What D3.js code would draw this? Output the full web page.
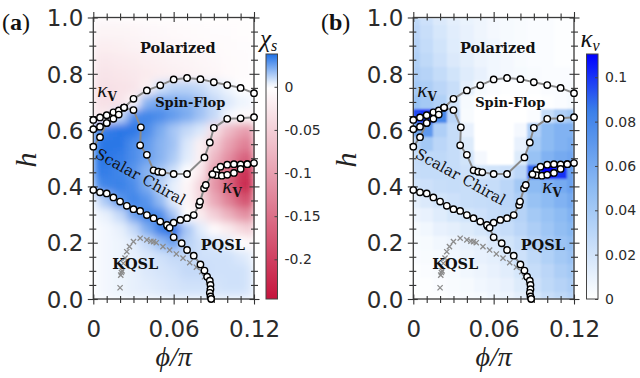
<!DOCTYPE html>
<html>
<head>
<meta charset="utf-8">
<script src="https://cdn.jsdelivr.net/npm/d3@7/dist/d3.min.js"></script>
<style>
  body { margin: 0; background: #fff; }
  svg { display: block; }
</style>
</head>
<body>
<div id="chart"></div>
<script>
// grid of the maps: phi columns, h rows (top row first)
const phiCols = [0, 0.01, 0.02, 0.03, 0.04, 0.05, 0.06, 0.07, 0.08, 0.09, 0.10, 0.11, 0.12];
const hRows = [1.0, 0.95, 0.9, 0.85, 0.8, 0.75, 0.7, 0.65, 0.6, 0.55, 0.5, 0.45, 0.4, 0.35, 0.3, 0.25, 0.2, 0.15, 0.1, 0.05, 0.0];

// (a) chi_s
const chiS = [
  [-0.008,-0.008,-0.007,-0.006,-0.005,-0.004,-0.004,-0.003,-0.003,-0.002,-0.002,-0.002,-0.002],
  [-0.012,-0.012,-0.011,-0.010,-0.008,-0.007,-0.006,-0.005,-0.004,-0.003,-0.003,-0.002,-0.002],
  [-0.018,-0.018,-0.016,-0.014,-0.012,-0.010,-0.009,-0.007,-0.006,-0.005,-0.004,-0.003,-0.003],
  [-0.024,-0.024,-0.022,-0.020,-0.017,-0.015,-0.013,-0.011,-0.009,-0.007,-0.005,-0.004,-0.003],
  [-0.028,-0.028,-0.026,-0.024,-0.021,-0.018,-0.016,-0.014,-0.012,-0.009,-0.006,-0.004,-0.003],
  [-0.032,-0.032,-0.030,-0.028,-0.015, 0.008, 0.012, 0.012, 0.010, 0.006, 0.003, 0.000,-0.002],
  [-0.030,-0.032,-0.028,-0.008, 0.020, 0.024, 0.022, 0.020, 0.016, 0.010, 0.006, 0.003, 0.002],
  [-0.028,-0.020, 0.010, 0.030, 0.032, 0.030, 0.026, 0.022, 0.016, 0.010, 0.002,-0.004,-0.008],
  [ 0.030, 0.034, 0.036, 0.036, 0.030, 0.022, 0.015, 0.010, 0.006,-0.030,-0.070,-0.095,-0.115],
  [ 0.034, 0.036, 0.036, 0.030, 0.026, 0.020, 0.016, 0.006,-0.015,-0.055,-0.095,-0.125,-0.145],
  [ 0.036, 0.036, 0.034, 0.030, 0.025, 0.020, 0.014, 0.005,-0.015,-0.075,-0.115,-0.155,-0.185],
  [ 0.035, 0.034, 0.032, 0.028, 0.020, 0.015, 0.008, 0.000,-0.025,-0.105,-0.155,-0.205,-0.235],
  [ 0.028, 0.032, 0.033, 0.030, 0.022, 0.012, 0.004,-0.010,-0.045,-0.110,-0.160,-0.210,-0.246],
  [ 0.006, 0.015, 0.028, 0.032, 0.028, 0.018, 0.005,-0.010,-0.040,-0.090,-0.130,-0.170,-0.200],
  [ 0.002, 0.004, 0.010, 0.025, 0.032, 0.030, 0.015, 0.000,-0.020,-0.050,-0.080,-0.110,-0.130],
  [ 0.001, 0.002, 0.004, 0.010, 0.022, 0.034, 0.038, 0.015, 0.005,-0.005,-0.020,-0.040,-0.060],
  [ 0.001, 0.002, 0.003, 0.005, 0.010, 0.018, 0.025, 0.012, 0.008, 0.006, 0.004, 0.000,-0.010],
  [ 0.001, 0.002, 0.003, 0.004, 0.006, 0.008, 0.010, 0.010, 0.008, 0.008, 0.008, 0.006, 0.004],
  [ 0.001, 0.002, 0.003, 0.004, 0.006, 0.007, 0.008, 0.010, 0.010, 0.008, 0.008, 0.008, 0.006],
  [ 0.001, 0.002, 0.003, 0.004, 0.005, 0.006, 0.007, 0.008, 0.008, 0.007, 0.008, 0.008, 0.006],
  [ 0.001, 0.002, 0.003, 0.004, 0.004, 0.005, 0.006, 0.006, 0.006, 0.006, 0.006, 0.006, 0.005]
];

// (b) kappa_v
const kappaV = [
  [0.028,0.022,0.016,0.012,0.009,0.007,0.005,0.004,0.003,0.002,0.002,0.001,0.001],
  [0.030,0.024,0.018,0.013,0.010,0.007,0.005,0.004,0.003,0.002,0.002,0.001,0.001],
  [0.032,0.026,0.020,0.014,0.010,0.008,0.006,0.004,0.003,0.002,0.002,0.001,0.001],
  [0.034,0.028,0.022,0.016,0.012,0.008,0.006,0.005,0.003,0.002,0.002,0.001,0.001],
  [0.036,0.032,0.026,0.020,0.014,0.010,0.006,0.005,0.004,0.003,0.002,0.002,0.002],
  [0.040,0.036,0.030,0.024,0.012,0.004,0.002,0.001,0.001,0.001,0.002,0.002,0.003],
  [0.045,0.040,0.034,0.020,0.004,0.001,0.000,0.000,0.000,0.000,0.001,0.002,0.004],
  [0.095,0.100,0.080,0.030,0.003,0.000,0.000,0.000,0.000,0.002,0.025,0.035,0.040],
  [0.060,0.070,0.035,0.025,0.010,0.000,0.000,0.000,0.005,0.035,0.050,0.055,0.055],
  [0.030,0.040,0.030,0.025,0.015,0.000,0.000,0.000,0.010,0.040,0.050,0.055,0.058],
  [0.025,0.028,0.028,0.025,0.020,0.005,0.000,0.000,0.015,0.045,0.055,0.060,0.062],
  [0.024,0.026,0.026,0.025,0.022,0.018,0.020,0.022,0.030,0.090,0.110,0.100,0.065],
  [0.020,0.022,0.024,0.025,0.024,0.024,0.025,0.030,0.040,0.050,0.055,0.060,0.065],
  [0.012,0.016,0.020,0.022,0.024,0.025,0.026,0.030,0.035,0.045,0.050,0.055,0.060],
  [0.008,0.010,0.014,0.018,0.020,0.022,0.025,0.028,0.032,0.040,0.045,0.050,0.055],
  [0.004,0.006,0.010,0.012,0.015,0.018,0.022,0.025,0.030,0.036,0.042,0.048,0.052],
  [0.003,0.004,0.006,0.008,0.010,0.012,0.016,0.020,0.025,0.032,0.038,0.044,0.048],
  [0.002,0.003,0.004,0.006,0.008,0.010,0.012,0.016,0.022,0.028,0.034,0.040,0.044],
  [0.001,0.002,0.003,0.004,0.006,0.008,0.010,0.013,0.018,0.025,0.030,0.036,0.040],
  [0.001,0.001,0.002,0.003,0.004,0.006,0.008,0.010,0.015,0.022,0.028,0.032,0.036],
  [0.000,0.001,0.001,0.002,0.003,0.004,0.006,0.008,0.012,0.018,0.024,0.028,0.032]
];

const xTickLabels = [0, 0.06, 0.12];
const yTickLabels = [0, 0.2, 0.4, 0.6, 0.8, 1.0];
const chiTicks = [0, -0.05, -0.1, -0.15, -0.2];
const kapTicks = [0, 0.02, 0.04, 0.06, 0.08, 0.1];

// phase boundaries (circles joined by grey lines)
const bA_phi = [0, 0.005, 0.01, 0.015, 0.019, 0.023, 0.03, 0.04, 0.05, 0.06, 0.07, 0.08, 0.09, 0.10, 0.11, 0.12];
const bA_h   = [0.636, 0.645, 0.653, 0.663, 0.670, 0.680, 0.711, 0.741, 0.759, 0.780, 0.785, 0.781, 0.770, 0.760, 0.750, 0.731];
const bB_phi = [0, 0.005, 0.01, 0.015, 0.019, 0.023];
const bB_h   = [0.603, 0.612, 0.625, 0.640, 0.655, 0.680];
const bC_phi = [0, 0.005, 0.01];
const bC_h   = [0.541, 0.575, 0.625];
const bD_phi = [0.023, 0.03, 0.0355, 0.035, 0.04, 0.045, 0.0485, 0.0515, 0.06, 0.07, 0.083, 0.087, 0.09, 0.10, 0.11, 0.12];
const bD_h   = [0.680, 0.671, 0.610, 0.546, 0.512, 0.457, 0.452, 0.450, 0.444, 0.444, 0.503, 0.556, 0.608, 0.640, 0.642, 0.646];
const bE_phi = [0.089, 0.092, 0.095, 0.100, 0.105, 0.110, 0.115, 0.120];
const bE_h   = [0.443, 0.458, 0.470, 0.477, 0.479, 0.478, 0.479, 0.483];
const bF_phi = [0.089, 0.092, 0.096, 0.100, 0.105, 0.110, 0.115];
const bF_h   = [0.443, 0.440, 0.438, 0.441, 0.448, 0.462, 0.479];
const bG_phi = [0.0555, 0.06, 0.065, 0.07, 0.075, 0.079, 0.0797, 0.0827, 0.084, 0.089];
const bG_h   = [0.258, 0.271, 0.281, 0.287, 0.298, 0.334, 0.346, 0.393, 0.405, 0.443];
const bH_phi = [0, 0.005, 0.01, 0.015, 0.02, 0.025, 0.03, 0.035, 0.04, 0.045, 0.05, 0.055, 0.057, 0.06, 0.066, 0.07, 0.075, 0.08, 0.083, 0.085, 0.087, 0.0875, 0.0875, 0.087, 0.0875, 0.088];
const bH_h   = [0.387, 0.379, 0.375, 0.361, 0.346, 0.331, 0.319, 0.313, 0.298, 0.287, 0.275, 0.263, 0.253, 0.219, 0.198, 0.174, 0.154, 0.123, 0.101, 0.079, 0.065, 0.050, 0.035, 0.022, 0.009, 0.0];

// KQSL boundary (grey crosses)
const kq_phi = [0.02, 0.0205, 0.021, 0.0215, 0.0224, 0.0237, 0.025, 0.027, 0.03, 0.035, 0.04, 0.043, 0.045, 0.047, 0.052, 0.057, 0.062, 0.067, 0.072, 0.077, 0.081, 0.083, 0.086, 0.0866, 0.087, 0.0875, 0.088];
const kq_h   = [0.040, 0.085, 0.094, 0.100, 0.127, 0.145, 0.168, 0.186, 0.204, 0.216, 0.210, 0.205, 0.204, 0.200, 0.186, 0.174, 0.160, 0.145, 0.129, 0.113, 0.097, 0.079, 0.061, 0.044, 0.030, 0.015, 0.0];

const boundaries = [
  [bA_phi, bA_h], [bB_phi, bB_h], [bC_phi, bC_h], [bD_phi, bD_h],
  [bE_phi, bE_h], [bF_phi, bF_h], [bG_phi, bG_h], [bH_phi, bH_h]
];

const W = 640, H = 378;
const svg = d3.select("#chart").append("svg")
  .attr("width", W).attr("height", H)
  .attr("viewBox", `0 0 ${W} ${H}`);

const defs = svg.append("defs");

const tickFont = "'DejaVu Sans', sans-serif";
const serif = "'DejaVu Serif', serif";
const mathFont = "'Liberation Serif', 'DejaVu Serif', serif";

const colorA = d3.scaleLinear()
  .domain([-0.246, 0, 0.038])
  .range(["#c5143d", "#ffffff", "#1d6fe5"])
  .clamp(true);
const colorB = d3.scaleLinear()
  .domain([0, 0.05, 0.085, 0.11])
  .range(["#ffffff", "#8dbbf3", "#3b7fe9", "#0000ff"])
  .clamp(true);

function drawPanel(p) {
  const x = d3.scaleLinear().domain([0, 0.12]).range([p.left, p.left + 160.7]);
  const y = d3.scaleLinear().domain([0, 1]).range([299, 17.5]);

  // heat map cells
  const filt = defs.append("filter").attr("id", "blur" + p.tag)
    .attr("x", 0).attr("y", 0).attr("width", 1).attr("height", 1);
  filt.append("feGaussianBlur").attr("stdDeviation", p.blur).attr("edgeMode", "duplicate");

  const cells = [];
  p.grid.forEach((row, i) => row.forEach((v, j) => cells.push({phi: phiCols[j], h: hRows[i], v: v})));
  const gMap = svg.append("g").attr("filter", p.blur > 0 ? `url(#blur${p.tag})` : null);
  gMap.selectAll("rect").data(cells).join("rect")
    .attr("x", d => x(Math.max(0, d.phi - 0.005)))
    .attr("width", d => x(Math.min(0.12, d.phi + 0.005)) - x(Math.max(0, d.phi - 0.005)) + 0.4)
    .attr("y", d => y(Math.min(1, d.h + 0.025)))
    .attr("height", d => y(Math.max(0, d.h - 0.025)) - y(Math.min(1, d.h + 0.025)) + 0.4)
    .attr("fill", d => p.color(d.v))
    .attr("shape-rendering", "crispEdges");

  // axes: ticks cross the frame
  const minorX = d3.range(0, 0.1201, 0.01);
  const minorY = d3.range(0, 1.0001, 0.05);
  const isMajX = v => xTickLabels.some(t => Math.abs(t - v) < 1e-6);
  const isMajY = v => yTickLabels.some(t => Math.abs(t - v) < 1e-6);

  function styleTicks(g, vert, sign, isMaj) {
    g.select(".domain").remove();
    g.selectAll(".tick line")
      .attr("stroke", "#333").attr("stroke-width", 1.1)
      .attr(vert ? "y1" : "x1", d => sign * (isMaj(d) ? -4.5 : -3))
      .attr(vert ? "y2" : "x2", d => sign * (isMaj(d) ? 5.5 : 4));
  }
  svg.append("g").attr("transform", "translate(0,299)")
    .call(d3.axisBottom(x).tickValues(minorX).tickFormat(""))
    .call(g => styleTicks(g, true, 1, isMajX));
  svg.append("g").attr("transform", "translate(0,17.5)")
    .call(d3.axisTop(x).tickValues(minorX).tickFormat(""))
    .call(g => styleTicks(g, true, -1, isMajX));
  svg.append("g").attr("transform", `translate(${x(0)},0)`)
    .call(d3.axisLeft(y).tickValues(minorY).tickFormat(""))
    .call(g => styleTicks(g, false, -1, isMajY));
  svg.append("g").attr("transform", `translate(${x(0.12)},0)`)
    .call(d3.axisRight(y).tickValues(minorY).tickFormat(""))
    .call(g => styleTicks(g, false, 1, isMajY));

  // tick labels
  svg.append("g").attr("transform", "translate(0,299)")
    .call(d3.axisBottom(x).tickValues(xTickLabels).tickSize(0).tickPadding(0)
      .tickFormat(d => d === 0 ? "0" : d3.format(".2f")(d)))
    .call(g => g.select(".domain").remove())
    .call(g => g.selectAll("text").attr("y", 38).attr("dy", null)
      .attr("fill", "#2b2b2b").style("font-family", tickFont).style("font-size", "23px"));
  svg.append("g").attr("transform", `translate(${x(0)},0)`)
    .call(d3.axisLeft(y).tickValues(yTickLabels).tickSize(0).tickPadding(0).tickFormat(d3.format(".1f")))
    .call(g => g.select(".domain").remove())
    .call(g => g.selectAll("text").attr("x", -10).attr("dy", "0.36em")
      .attr("fill", "#2b2b2b").style("font-family", tickFont).style("font-size", "23px"));

  // frame
  svg.append("rect")
    .attr("x", x(0)).attr("y", y(1))
    .attr("width", x(0.12) - x(0)).attr("height", y(0) - y(1))
    .attr("fill", "none").attr("stroke", "#3a3a3a").attr("stroke-width", 1.3);

  // KQSL crosses
  const crossPts = kq_phi.map((v, i) => [x(v), y(kq_h[i])]);
  svg.append("g").selectAll("path").data(crossPts).join("path")
    .attr("d", d => `M${d[0]-2.6},${d[1]-2.6}L${d[0]+2.6},${d[1]+2.6}M${d[0]-2.6},${d[1]+2.6}L${d[0]+2.6},${d[1]-2.6}`)
    .attr("stroke", "#8c8c8c").attr("stroke-width", 1.3);

  // boundary lines, then circles
  const line = d3.line().x(d => x(d[0])).y(d => y(d[1]));
  boundaries.forEach(b => {
    const pts = b[0].map((v, i) => [v, b[1][i]]);
    svg.append("path").datum(pts).attr("d", line)
      .attr("fill", "none").attr("stroke", "#8a8a8a").attr("stroke-width", 2);
  });
  boundaries.forEach(b => {
    const pts = b[0].map((v, i) => [v, b[1][i]]);
    svg.append("g").selectAll("circle").data(pts).join("circle")
      .attr("cx", d => x(d[0])).attr("cy", d => y(d[1])).attr("r", 3.2)
      .attr("fill", "#fff").attr("stroke", "#000").attr("stroke-width", 1.4);
  });

  // region labels
  const lab = (t, cx, cy, size, weight) => svg.append("text")
    .attr("x", cx).attr("y", cy).attr("text-anchor", "middle")
    .style("font-family", serif).style("font-size", size + "px")
    .style("font-weight", weight).attr("fill", "#111").text(t);
  lab("Polarized", p.left + 84.5, 53, 14.5, "bold");
  lab("Spin-Flop", p.left + 97, 107, 13, "bold");
  lab("PQSL", p.left + 129.5, 250, 14.5, "bold");
  lab("KQSL", p.left + 42, 269, 14.5, "bold");
  svg.append("text")
    .attr("transform", `translate(${p.left + 1},${157}) rotate(29)`)
    .style("font-family", serif).style("font-size", "15px").attr("fill", "#111")
    .text("Scalar Chiral");

  function kappaLabel(px, py) {
    const t = svg.append("text").attr("x", px).attr("y", py).attr("fill", "#111");
    t.append("tspan").text("κ").style("font-family", mathFont).style("font-style", "italic").style("font-size", "21px");
    t.append("tspan").text("V").attr("dy", 4).style("font-family", serif).style("font-weight", "bold").style("font-size", "12px");
  }
  kappaLabel(p.left + 4, 97);
  kappaLabel(p.left + 129, 193);

  // colour bar
  const cb = {x: p.cbX, w: 11.5, top: 54, bottom: 299};
  const yc = d3.scaleLinear().domain(p.cbDomain).range([cb.bottom, cb.top]);
  const grad = defs.append("linearGradient").attr("id", "grad" + p.tag)
    .attr("x1", 0).attr("y1", 1).attr("x2", 0).attr("y2", 0);
  d3.range(0, 1.0001, 0.02).forEach(t => {
    const v = p.cbDomain[0] + t * (p.cbDomain[1] - p.cbDomain[0]);
    grad.append("stop").attr("offset", t).attr("stop-color", p.color(v));
  });
  svg.append("rect").attr("x", cb.x).attr("y", cb.top).attr("width", cb.w)
    .attr("height", cb.bottom - cb.top).attr("fill", `url(#grad${p.tag})`)
    .attr("stroke", "#444").attr("stroke-width", 1);
  svg.append("g").attr("transform", `translate(${cb.x + cb.w},0)`)
    .call(d3.axisLeft(yc).tickValues(p.cbTicks).tickSize(3).tickFormat(""))
    .call(g => g.select(".domain").remove())
    .call(g => g.selectAll(".tick line").attr("stroke", "#444"));
  svg.append("g").selectAll("text").data(p.cbTicks).join("text")
    .attr("x", cb.x + cb.w + 7).attr("y", d => yc(d)).attr("dy", "0.36em")
    .style("font-family", tickFont).style("font-size", "14px").attr("fill", "#2b2b2b")
    .text(d => d === 0 ? "0" : String(d));

  // colour bar title
  const ct = svg.append("text").attr("x", cb.x - 6).attr("y", 47).attr("fill", "#111");
  ct.append("tspan").text(p.cbSym).style("font-family", mathFont).style("font-style", "italic").style("font-size", "25px");
  ct.append("tspan").text(p.cbSub).attr("dy", 4).style("font-family", mathFont).style("font-style", "italic").style("font-size", "16px");

  // panel label
  const pl = svg.append("text").attr("x", p.labelX).attr("y", 30).attr("fill", "#111")
    .style("font-family", mathFont).style("font-size", "24px");
  pl.append("tspan").text("(");
  pl.append("tspan").text(p.tag).style("font-weight", "bold");
  pl.append("tspan").text(")");

  // axis titles
  svg.append("text")
    .attr("transform", `translate(${p.left - 57},${160}) rotate(-90)`)
    .attr("text-anchor", "middle")
    .style("font-family", mathFont).style("font-style", "italic").style("font-size", "30px")
    .attr("fill", "#222").text("h");
  svg.append("text").attr("x", x(0.06)).attr("y", 366).attr("text-anchor", "middle")
    .style("font-family", mathFont).style("font-style", "italic").style("font-size", "28px")
    .attr("fill", "#222").text("ϕ/π");
}

drawPanel({tag: "a", left: 93.3, grid: chiS, color: colorA, blur: 4, labelX: 2,
  cbX: 266, cbDomain: [-0.246, 0.038], cbTicks: chiTicks, cbSym: "χ", cbSub: "s"});
drawPanel({tag: "b", left: 413.3, grid: kappaV, color: colorB, blur: 0.8, labelX: 321,
  cbX: 586.5, cbDomain: [0, 0.1105], cbTicks: kapTicks, cbSym: "κ", cbSub: "v"});
</script>
</body>
</html>
